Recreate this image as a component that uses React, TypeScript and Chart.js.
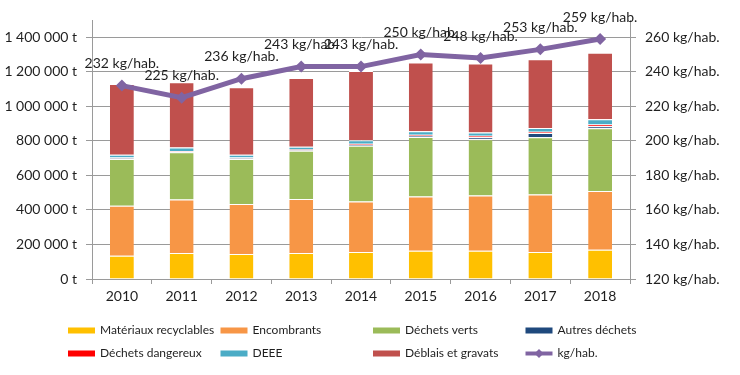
import { useEffect, useRef } from 'react';
import { Chart, registerables } from 'chart.js';

Chart.register(...registerables);

const YEARS = ['2010', '2011', '2012', '2013', '2014', '2015', '2016', '2017', '2018'];
const MATERIAUX = [135000, 150000, 145000, 150000, 156000, 164000, 164000, 156000, 169000];
const ENCOMBRANTS = [289000, 310000, 290000, 314000, 293000, 314000, 319000, 333000, 340000];
const DECHETS_VERTS = [271000, 274000, 260000, 279000, 323000, 345000, 326000, 332000, 364000];
const AUTRES = [4000, 4000, 4000, 3000, 6000, 6000, 12000, 24000, 12000];
const DANGEREUX = [4000, 4000, 4000, 4000, 6000, 6000, 8000, 8000, 10000];
const DEEE = [17000, 20000, 16000, 16000, 20000, 20000, 20000, 22000, 30000];
const DEBLAIS = [409000, 378000, 392000, 398000, 400000, 399000, 399000, 397000, 385000];
const KG_HAB = [232, 225, 236, 243, 243, 250, 248, 253, 259];

const Y_TICKS = [0, 200000, 400000, 600000, 800000, 1000000, 1200000, 1400000];
const Y1_TICKS = [120, 140, 160, 180, 200, 220, 240, 260];

const SERIES_NAMES = [
  'Matériaux recyclables',
  'Encombrants',
  'Déchets verts',
  'Autres déchets',
  'Déchets dangereux',
  'DEEE',
  'Déblais et gravats',
  'kg/hab.',
];
const COLORS = ['#FFC000', '#F79646', '#9BBB59', '#1F497D', '#FF0000', '#4BACC6', '#C0504D', '#8064A2'];

const FONT = "Lato, 'Open Sans', sans-serif";
const TEXT = '#1f1f1f';
const GRID = '#9a9a9a';

const fmtT = (v: number) => String(v).replace(/\B(?=(\d{3})+(?!\d))/g, ' ') + ' t';

const dataLabelPlugin = {
  id: 'kgLabels',
  afterDatasetsDraw(chart: any) {
    const idx = chart.data.datasets.findIndex((d: any) => d.type === 'line');
    if (idx < 0) return;
    const meta = chart.getDatasetMeta(idx);
    const ctx = chart.ctx;
    ctx.save();
    ctx.font = `14px ${FONT}`;
    ctx.fillStyle = TEXT;
    ctx.textAlign = 'center';
    ctx.textBaseline = 'middle';
    meta.data.forEach((pt: any, i: number) => {
      ctx.fillText(`${KG_HAB[i]} kg/hab.`, pt.x, pt.y - 22);
    });
    ctx.restore();
  },
};

const legendPlugin = {
  id: 'gridLegend',
  afterDraw(chart: any) {
    const ctx = chart.ctx;
    ctx.save();
    ctx.font = `12px ${FONT}`;
    ctx.textBaseline = 'middle';
    ctx.textAlign = 'left';
    SERIES_NAMES.forEach((name, i) => {
      const col = i % 4;
      const row = Math.floor(i / 4);
      const x = 68 + col * 152.5;
      const y = 330.5 + row * 23;
      const color = COLORS[i];
      if (name === 'kg/hab.') {
        ctx.strokeStyle = color;
        ctx.lineWidth = 4;
        ctx.beginPath();
        ctx.moveTo(x, y);
        ctx.lineTo(x + 27, y);
        ctx.stroke();
        ctx.fillStyle = color;
        ctx.beginPath();
        ctx.moveTo(x + 13.5, y - 4.5);
        ctx.lineTo(x + 18, y);
        ctx.lineTo(x + 13.5, y + 4.5);
        ctx.lineTo(x + 9, y);
        ctx.closePath();
        ctx.fill();
      } else {
        ctx.fillStyle = color;
        ctx.fillRect(x, y - 3, 27, 6);
      }
      ctx.fillStyle = TEXT;
      ctx.fillText(name, x + 32, y);
    });
    ctx.restore();
  },
};

export default function App() {
  const ref = useRef<HTMLCanvasElement>(null);
  useEffect(() => {
    const canvas = ref.current;
    if (!canvas) return;
    const barSeries = [MATERIAUX, ENCOMBRANTS, DECHETS_VERTS, AUTRES, DANGEREUX, DEEE, DEBLAIS];
    const barDatasets = barSeries.map((data, i) => ({
      type: 'bar' as const,
      label: SERIES_NAMES[i],
      data,
      backgroundColor: COLORS[i],
      borderColor: '#ffffff',
      borderWidth: { top: 1, left: 0, right: 0, bottom: 0 },
      borderSkipped: false,
      yAxisID: 'y',
      stack: 'tonnage',
      order: 1,
      barPercentage: 0.4,
      categoryPercentage: 1,
    }));
    const chart = new Chart(canvas, {
      type: 'bar',
      data: {
        labels: YEARS,
        datasets: [
          ...barDatasets,
          {
            type: 'line' as const,
            label: 'kg/hab.',
            data: KG_HAB,
            borderColor: COLORS[7],
            backgroundColor: COLORS[7],
            borderWidth: 5,
            pointStyle: 'rectRot',
            pointRadius: 6,
            pointBackgroundColor: COLORS[7],
            pointBorderColor: COLORS[7],
            pointBorderWidth: 0,
            tension: 0,
            yAxisID: 'y1',
            order: 0,
          } as any,
        ],
      },
      options: {
        responsive: false,
        animation: false,
        layout: { padding: { top: 20, left: 0, right: 0, bottom: 0 } },
        plugins: {
          legend: { display: false },
          tooltip: { enabled: false },
        },
        scales: {
          x: {
            stacked: true,
            grid: { display: true, drawOnChartArea: false, color: GRID, tickLength: 5, offset: true },
            border: { color: GRID },
            ticks: { font: { family: FONT, size: 14 }, color: TEXT, padding: 4 },
            afterFit: (s: any) => {
              s.height = 96;
            },
          },
          y: {
            stacked: true,
            min: 0,
            max: 1500000,
            ticks: {
              callback: (v: any) => fmtT(Number(v)),
              font: { family: FONT, size: 14 },
              color: TEXT,
              padding: 9,
            },
            grid: { color: GRID, tickLength: 6 },
            border: { color: GRID },
            afterBuildTicks: (s: any) => {
              s.ticks = Y_TICKS.map((value) => ({ value }));
            },
            afterFit: (s: any) => {
              s.width = 92;
            },
          },
          y1: {
            position: 'right',
            min: 120,
            max: 270,
            ticks: {
              callback: (v: any) => `${v} kg/hab.`,
              font: { family: FONT, size: 14 },
              color: TEXT,
              padding: 9,
            },
            grid: { drawOnChartArea: false, color: GRID, tickLength: 6 },
            border: { color: GRID },
            afterBuildTicks: (s: any) => {
              s.ticks = Y1_TICKS.map((value) => ({ value }));
            },
            afterFit: (s: any) => {
              s.width = 110;
            },
          },
        },
      } as any,
      plugins: [dataLabelPlugin, legendPlugin],
    });
    return () => chart.destroy();
  }, []);
  return (
    <div style={{ position: 'fixed', left: 0, top: 0, width: 740, height: 375, background: '#ffffff' }}>
      <canvas ref={ref} width={740} height={375} style={{ display: 'block', width: 740, height: 375 }} />
    </div>
  );
}
